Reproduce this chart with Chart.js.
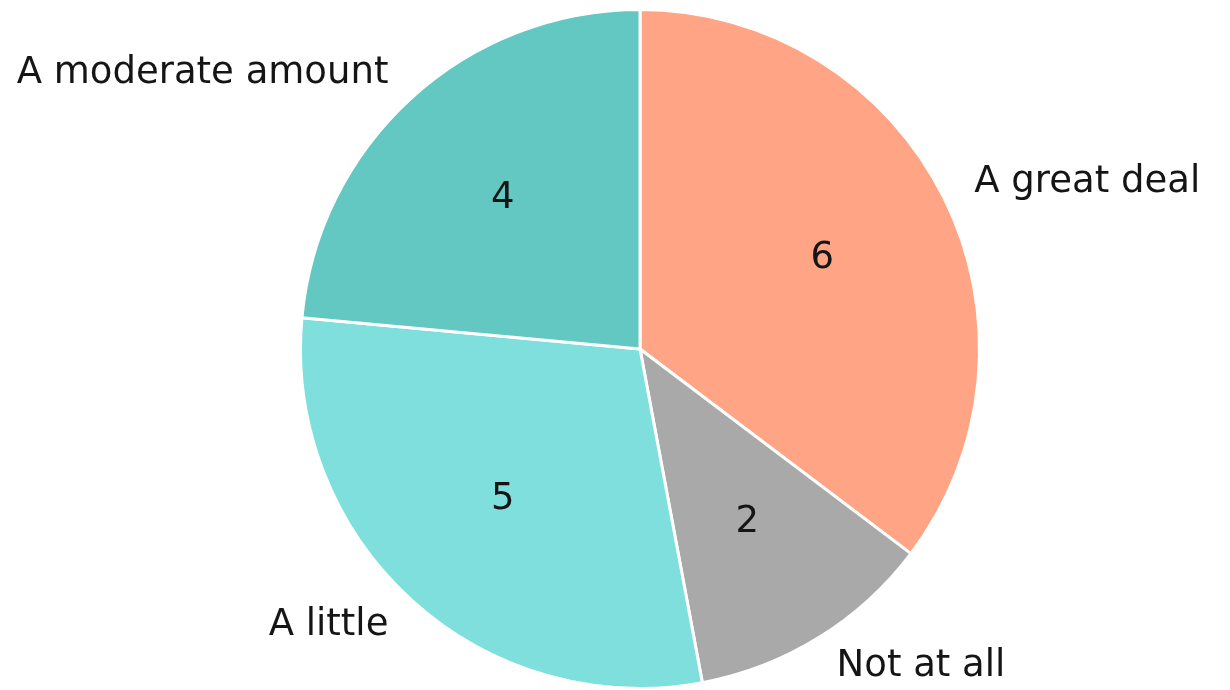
<!DOCTYPE html>
<html>
<head>
<meta charset="utf-8">
<script src="https://cdn.jsdelivr.net/npm/chart.js@4/dist/chart.umd.min.js"></script>
<style>
html,body{margin:0;padding:0;background:#fff;}
#wrap{width:1230px;height:690px;position:relative;}
</style>
</head>
<body>
<div id="wrap"><canvas id="c" width="1230" height="690"></canvas></div>
<script>
const categories = ["A great deal", "Not at all", "A little", "A moderate amount"];
const counts = [6, 2, 5, 4];
const sliceColors = ["#FFA585", "#A9A9A9", "#7EDFDC", "#63C7C2"];

const FONT = "37px 'DejaVu Sans'";

const labelPlugin = {
  id: 'pieLabels',
  afterDatasetsDraw(chart) {
    const ctx = chart.ctx;
    const meta = chart.getDatasetMeta(0);
    ctx.save();
    ctx.font = FONT;
    ctx.fillStyle = '#151515';
    meta.data.forEach((arc, i) => {
      const p = arc.getProps(['x','y','startAngle','endAngle','outerRadius'], true);
      const mid = (p.startAngle + p.endAngle) / 2;
      const r = p.outerRadius;
      ctx.textAlign = 'center';
      ctx.textBaseline = 'middle';
      ctx.fillText(String(counts[i]), p.x + Math.cos(mid) * r * 0.6, p.y + Math.sin(mid) * r * 0.6);
      const lx = p.x + Math.cos(mid) * r * 1.1;
      const ly = p.y + Math.sin(mid) * r * 1.1;
      ctx.textAlign = Math.cos(mid) >= 0 ? 'left' : 'right';
      ctx.fillText(categories[i], lx, ly);
    });
    ctx.restore();
  }
};

new Chart(document.getElementById('c'), {
  type: 'pie',
  data: {
    labels: categories,
    datasets: [{
      data: counts,
      backgroundColor: sliceColors,
      borderColor: '#ffffff',
      borderWidth: 3
    }]
  },
  options: {
    responsive: false,
    animation: false,
    layout: { padding: { left: 50, right: 0, top: 8, bottom: 0 } },
    plugins: {
      legend: { display: false },
      tooltip: { enabled: false }
    }
  },
  plugins: [labelPlugin]
});
</script>
</body>
</html>
